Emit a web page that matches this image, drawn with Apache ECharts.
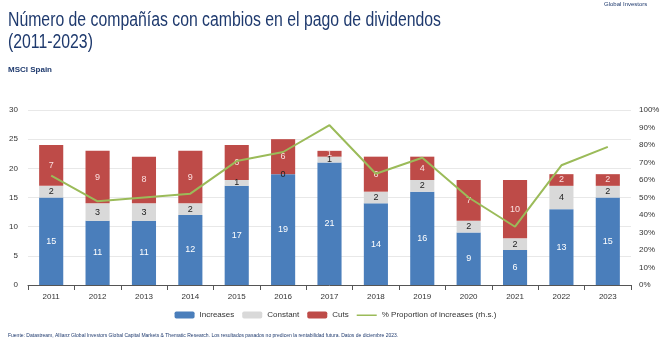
<!DOCTYPE html>
<html>
<head>
<meta charset="utf-8">
<script src="https://cdn.jsdelivr.net/npm/echarts@6/dist/echarts.min.js"></script>
<style>html,body{margin:0;padding:0;background:#fff;}#c{width:671px;height:350px;}</style>
</head>
<body>
<div id="c"></div>
<script>
const years = ['2011','2012','2013','2014','2015','2016','2017','2018','2019','2020','2021','2022','2023'];
const increases = [15,11,11,12,17,19,21,14,16,9,6,13,15];
const constant = [2,3,3,2,1,0,1,2,2,2,2,4,2];
const cuts = [7,9,8,9,6,6,1,6,4,7,10,2,2];
const proportion = [62.5,47.8,50,52.2,70.8,76,91.3,63.6,72.7,50,33.3,68.4,78.9];

const font = 'Liberation Sans, Arial, sans-serif';
const chart = echarts.init(document.getElementById('c'), null, {renderer:'canvas'});
const lbl = (color) => ({show:true, position:'inside', color:color, fontSize:9, fontFamily:font});
chart.setOption({
  animation:false,
  backgroundColor:'#fff',
  textStyle:{fontFamily:font},
  graphic:[
    {type:'text', x:8, y:9, scaleX:0.79, style:{text:'Número de compañías con cambios en el pago de dividendos\n(2011-2023)', fontSize:20, fontFamily:font, fill:'#1f3a6e', lineHeight:22}},
    {type:'text', left:8, top:66, style:{text:'MSCI Spain', fontSize:8, fontWeight:'bold', fontFamily:font, fill:'#1f3a6e'}},
    {type:'text', left:604, top:1, style:{text:'Global Investors', fontSize:6, fontFamily:font, fill:'#1f3a6e'}},
    {type:'text', left:8, top:333, style:{text:'Fuente: Datastream, Allianz Global Investors Global Capital Markets & Thematic Research. Los resultados pasados no predicen la rentabilidad futura. Datos de diciembre 2023.', fontSize:5, fontFamily:font, fill:'#1f3a6e'}}
  ],
  legend:{
    bottom:26, left:'center', itemWidth:20, itemHeight:7, itemGap:8,
    textStyle:{fontSize:8, color:'#333', fontFamily:font},
    data:['Increases','Constant','Cuts',
      {name:'% Proportion of increases (rh.s.)', icon:'path://M0,0L0.01,0M0,3L20,3L20,4.6L0,4.6ZM20,7L19.99,7'}]
  },
  grid:{left:28, right:40, top:110, bottom:65},
  xAxis:{type:'category', data:years,
    axisLine:{lineStyle:{color:'#555'}}, axisTick:{show:true, lineStyle:{color:'#555'}},
    axisLabel:{fontSize:8, color:'#333', margin:8}},
  yAxis:[
    {type:'value', min:0, max:30, interval:5, axisLine:{show:false}, axisTick:{show:false},
     axisLabel:{fontSize:8, color:'#333', margin:10},
     splitLine:{lineStyle:{color:'#e8e8e8'}}},
    {type:'value', min:0, max:100, interval:10, axisLine:{show:false}, axisTick:{show:false},
     axisLabel:{fontSize:8, color:'#333', formatter:'{value}%', margin:8},
     splitLine:{show:false}}
  ],
  series:[
    {name:'Increases', type:'bar', stack:'a', data:increases, barWidth:'52%', itemStyle:{color:'#4a7ebb'}, label:lbl('#ffffff')},
    {name:'Constant', type:'bar', stack:'a', data:constant, itemStyle:{color:'#d9d9d9'}, label:lbl('#222222')},
    {name:'Cuts', type:'bar', stack:'a', data:cuts, itemStyle:{color:'#be4b48'}, label:lbl('#fbe0e0')},
    {name:'% Proportion of increases (rh.s.)', type:'line', yAxisIndex:1, data:proportion, symbol:'none', lineStyle:{color:'#9bbb59', width:2}, itemStyle:{color:'#9bbb59'}}
  ]
});
</script>
</body>
</html>
